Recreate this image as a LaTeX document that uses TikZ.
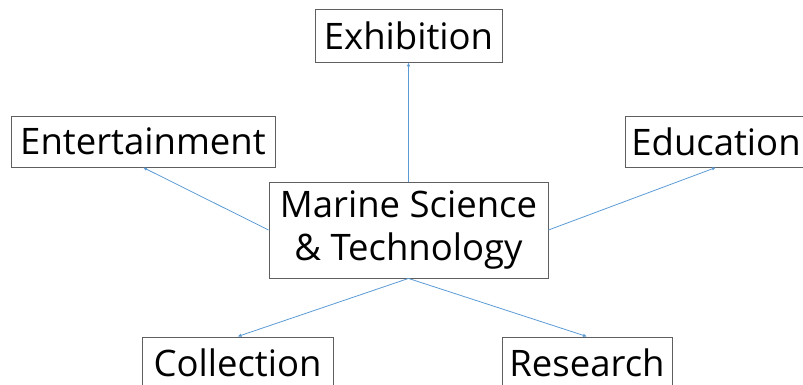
\documentclass[tikz,border=0pt]{standalone}
\usepackage{fontspec}
\usepackage{xcolor}
\usepackage{tikz}
\usetikzlibrary{arrows.meta}
\setmainfont{Open Sans}
\definecolor{linkblue}{RGB}{91,155,213}
\definecolor{boxgray}{RGB}{95,95,95}

\begin{document}
\begin{tikzpicture}[x=1pt, y=-1pt, >={Latex[length=4pt,width=3.5pt]},
    block/.style={draw=boxgray, line width=0.9pt, fill=white, rectangle, inner sep=0pt, align=center,
        font=\fontsize{36.5}{43}\selectfont},
    link/.style={->, draw=linkblue, line width=0.8pt}]

    \useasboundingbox (0,0) rectangle (803,385);
    \clip (0,0) rectangle (803,385);

    % Nodes
    \node [block, minimum width=279pt, minimum height=96pt] (core) at (408.5,230) {Marine Science\\\& Technology};
    \node [block, minimum width=187pt, minimum height=53pt] (expo) at (408.5,35.5) {Exhibition};
    \node [block, minimum width=264pt, minimum height=51pt] (ent) at (143,141.5) {Entertainment};
    \node [block, minimum width=182pt, minimum height=51pt] (edu) at (716,141.5) {Education};
    \node [block, minimum width=191pt, minimum height=51pt] (coll) at (237.5,362.5) {Collection};
    \node [block, minimum width=170pt, minimum height=51pt] (res) at (587,362.5) {Research};

    % Arrows
    \draw [link] (core.north) -- (expo.south);
    \draw [link] (core.west) -- (ent.south);
    \draw [link] (core.east) -- (edu.south);
    \draw [link] (core.south) -- (coll.north);
    \draw [link] (core.south) -- (res.north);

\end{tikzpicture}
\end{document}
